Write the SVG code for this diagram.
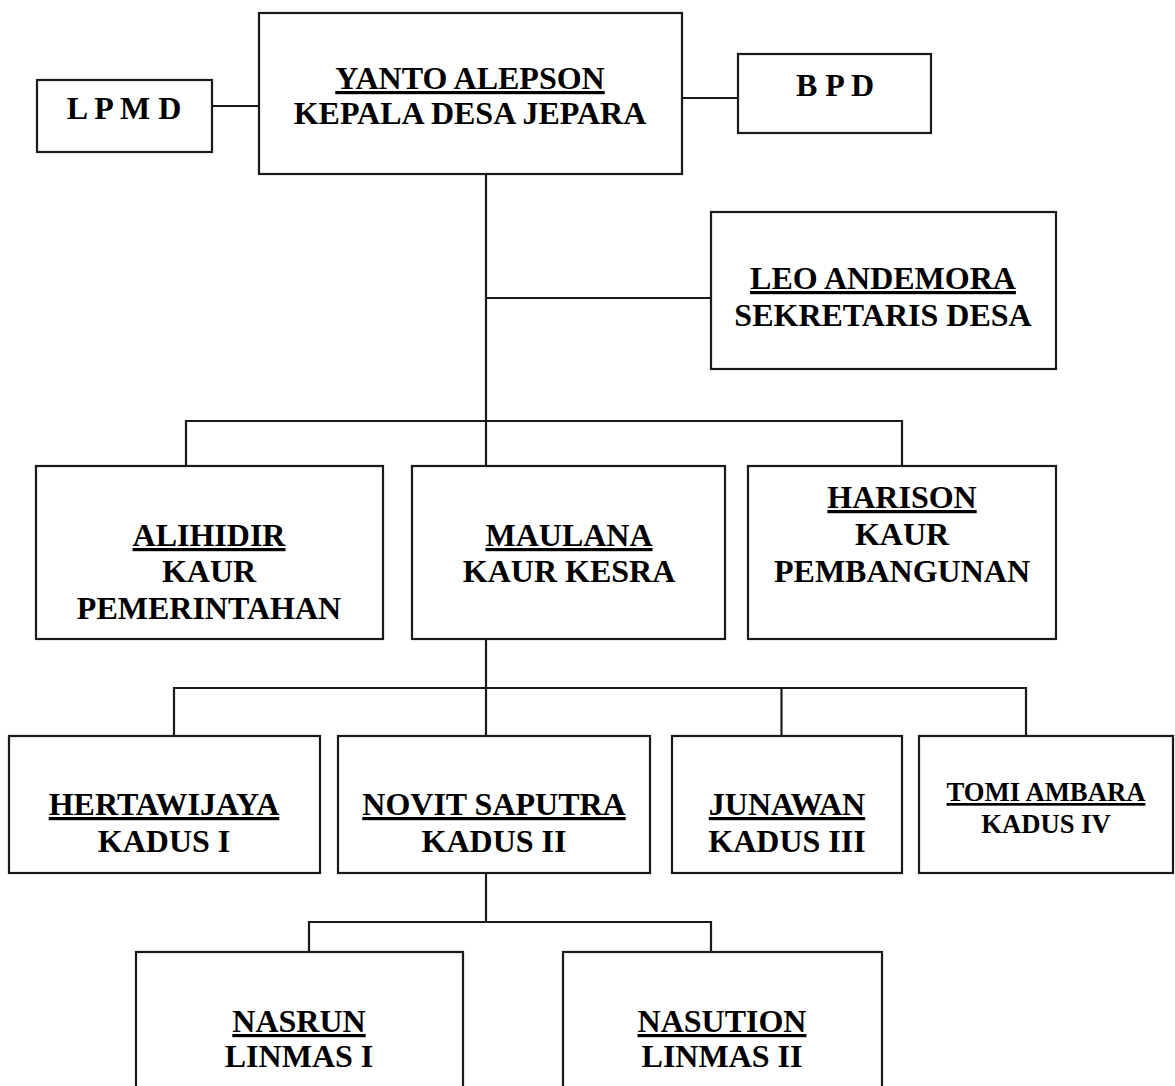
<svg xmlns="http://www.w3.org/2000/svg" width="1175" height="1086" viewBox="0 0 1175 1086">
<style>
.box{fill:#fff;stroke:#1a1a1a;stroke-width:2.2}
.ln{stroke:#1a1a1a;stroke-width:2.2;fill:none}
text{font-family:"Liberation Serif","Times New Roman",serif;font-weight:bold;font-size:32px;fill:#000;text-anchor:middle}
.u{text-decoration:underline;text-decoration-thickness:2.6px}
.sm{font-size:26.7px}
</style>
<rect width="1175" height="1086" fill="#fff"/>
<g id="connectors">
<path class="ln" d="M212 106H259"/>
<path class="ln" d="M682 98H738"/>
<path class="ln" d="M486 174V466"/>
<path class="ln" d="M486 298H711"/>
<path class="ln" d="M186 466V421H902V466"/>
<path class="ln" d="M486 639V736"/>
<path class="ln" d="M174 736V688H1026V736"/>
<path class="ln" d="M781.5 688V736"/>
<path class="ln" d="M486 873V922"/>
<path class="ln" d="M309 952V922H711V952"/>
</g>
<g id="kepala"><rect class="box" x="259" y="13" width="423" height="161"/>
<text x="470" y="89" class="u">YANTO ALEPSON</text><text x="470" y="124">KEPALA DESA JEPARA</text></g>
<g id="lpmd"><rect class="box" x="37" y="80" width="175" height="72"/>
<text x="124" y="119">L P M D</text></g>
<g id="bpd"><rect class="box" x="738" y="54" width="193" height="79"/>
<text x="835" y="96">B P D</text></g>
<g id="sekdes"><rect class="box" x="711" y="212" width="345" height="157"/>
<text x="883" y="289" class="u">LEO ANDEMORA</text><text x="883" y="326">SEKRETARIS DESA</text></g>
<g id="alihidir"><rect class="box" x="36" y="466" width="347" height="173"/>
<text x="209" y="546" class="u">ALIHIDIR</text><text x="209" y="582">KAUR</text><text x="209" y="619">PEMERINTAHAN</text></g>
<g id="maulana"><rect class="box" x="412" y="466" width="313" height="173"/>
<text x="569" y="546" class="u">MAULANA</text><text x="569" y="582">KAUR KESRA</text></g>
<g id="harison"><rect class="box" x="748" y="466" width="308" height="173"/>
<text x="902" y="508" class="u">HARISON</text><text x="902" y="545">KAUR</text><text x="902" y="582">PEMBANGUNAN</text></g>
<g id="hertawijaya"><rect class="box" x="9" y="736" width="311" height="137"/>
<text x="164" y="815" class="u">HERTAWIJAYA</text><text x="164" y="852">KADUS I</text></g>
<g id="novit"><rect class="box" x="338" y="736" width="312" height="137"/>
<text x="494" y="815" class="u">NOVIT SAPUTRA</text><text x="494" y="852">KADUS II</text></g>
<g id="junawan"><rect class="box" x="672" y="736" width="230" height="137"/>
<text x="787" y="815" class="u">JUNAWAN</text><text x="787" y="852">KADUS III</text></g>
<g id="tomi"><rect class="box" x="919" y="736" width="254" height="137"/>
<text x="1046" y="801" class="u sm">TOMI AMBARA</text><text x="1046" y="833" class="sm">KADUS IV</text></g>
<g id="nasrun"><rect class="box" x="136" y="952" width="327" height="200"/>
<text x="299" y="1032" class="u">NASRUN</text><text x="299" y="1067">LINMAS I</text></g>
<g id="nasution"><rect class="box" x="563" y="952" width="319" height="200"/>
<text x="722" y="1032" class="u">NASUTION</text><text x="722" y="1067">LINMAS II</text></g>
</svg>
